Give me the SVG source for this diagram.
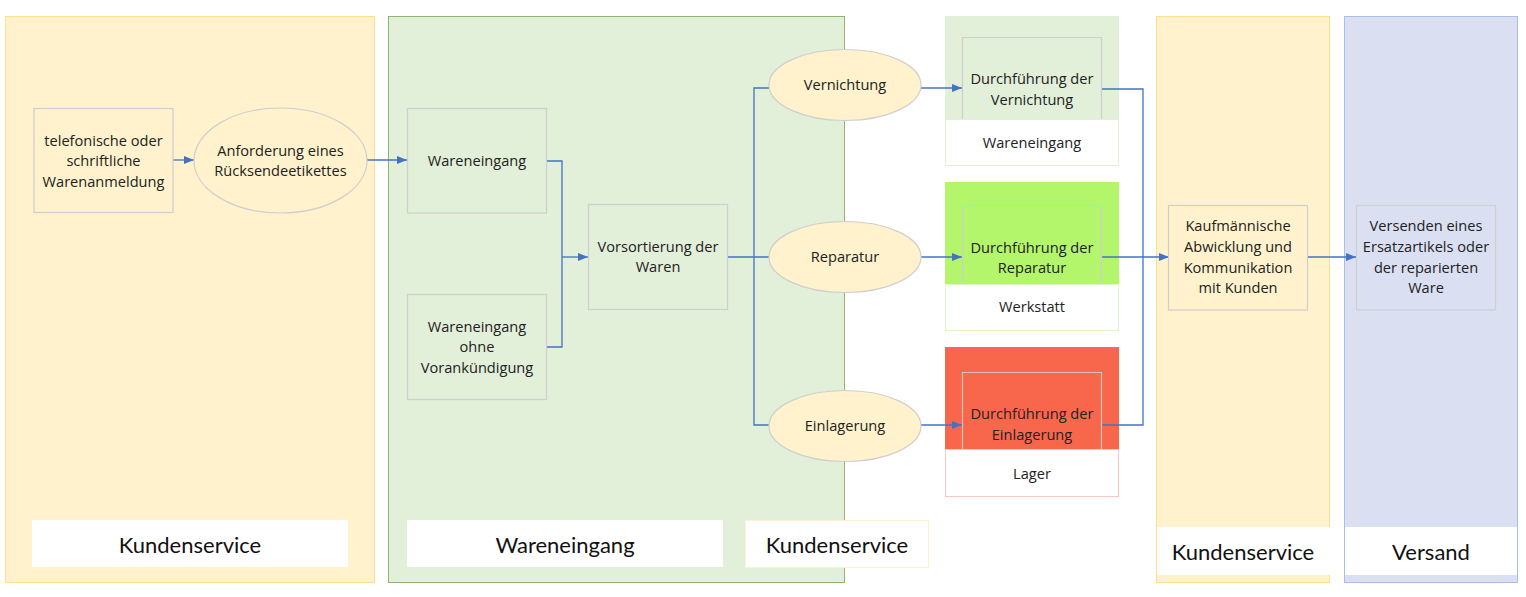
<svg xmlns="http://www.w3.org/2000/svg" width="1526" height="597" viewBox="0 0 1526 597">
<style>
text{font-family:"Open Sans","Noto Sans",sans-serif;font-size:14.6px;fill:#222;text-anchor:middle;dominant-baseline:central}
.lbl{font-family:Lato,"Open Sans",sans-serif;font-size:22px;fill:#111}
.box{stroke:#d0cece;stroke-width:1.2;fill:none}
.ell{fill:#fff2cc;stroke:#d0cece;stroke-width:1.2}
.con{fill:none;stroke:#4472c4;stroke-width:1.3}
.lab{fill:#fff}
</style>
<defs>
<marker id="ah" markerWidth="10" markerHeight="8" refX="10" refY="4" orient="auto" markerUnits="userSpaceOnUse">
<path d="M0,0 L10,4 L0,8 Z" fill="#4472c4"/>
</marker>
</defs>
<rect width="1526" height="597" fill="#fff"/>
<g id="lane-kundenservice-1">
<rect x="5.5" y="16.5" width="369" height="566" fill="#fff2cc" stroke="#ffe08a"/>
<rect class="lab" x="32" y="520" width="316" height="47"/>
<text class="lbl" x="190" y="544">Kundenservice</text>
</g>
<g id="lane-wareneingang">
<rect x="388.5" y="16.5" width="456" height="566" fill="#e2efd9" stroke="#8fb573"/>
<rect class="lab" x="407" y="520" width="316" height="47"/>
<text class="lbl" x="565" y="544">Wareneingang</text>
</g>
<g id="label-kundenservice-2">
<rect x="745.5" y="520.5" width="183" height="47" fill="#fff" stroke="#fff2cc"/>
<text class="lbl" x="837" y="544">Kundenservice</text>
</g>
<g id="lane-kundenservice-3">
<rect x="1156.5" y="16.5" width="173" height="566" fill="#fff2cc" stroke="#ffe08a"/>
<rect class="lab" x="1157" y="527" width="173" height="48"/>
<text class="lbl" x="1243" y="551">Kundenservice</text>
</g>
<g id="lane-versand">
<rect x="1344.5" y="16.5" width="173" height="566" fill="#dae0f2" stroke="#a9bfe6"/>
<rect class="lab" x="1345" y="527" width="172" height="48"/>
<text class="lbl" x="1431" y="551">Versand</text>
</g>
<g id="group-vernichtung">
<rect x="945" y="16" width="174" height="103" fill="#e2efd9"/>
<rect x="945.5" y="119.5" width="173" height="46" fill="#fff" stroke="#e2efd9"/>
<text x="1032" y="142">Wareneingang</text>
</g>
<g id="group-reparatur">
<rect x="945" y="182" width="174" height="102" fill="#b3f56b"/>
<rect x="945.5" y="284.5" width="173" height="46" fill="#fff" stroke="#dff7c8"/>
<text x="1032" y="306">Werkstatt</text>
</g>
<g id="group-einlagerung">
<rect x="945" y="347" width="174" height="102" fill="#f8674c"/>
<rect x="945.5" y="449.5" width="173" height="47" fill="#fff" stroke="#f9c9c0"/>
<text x="1032" y="473">Lager</text>
</g>
<g id="connectors">
<path class="con" d="M173,160 H194" marker-end="url(#ah)"/>
<path class="con" d="M367,160 H407" marker-end="url(#ah)"/>
<path class="con" d="M547,161 H562 V347 H547"/>
<path class="con" d="M562,257 H588" marker-end="url(#ah)"/>
<path class="con" d="M727,257 H769"/>
<path class="con" d="M769,88 H754 V425 H769"/>
<path class="con" d="M921,88 H962" marker-end="url(#ah)"/>
<path class="con" d="M921,257 H962" marker-end="url(#ah)"/>
<path class="con" d="M921,425 H962" marker-end="url(#ah)"/>
<path class="con" d="M1102,89 H1143 V425 H1102"/>
<path class="con" d="M1102,257 H1169" marker-end="url(#ah)"/>
<path class="con" d="M1307,257 H1356" marker-end="url(#ah)"/>
</g>
<g id="node-telefonische">
<rect class="box" x="34" y="108.5" width="139" height="104"/>
<text x="103.5" y="140">telefonische oder</text>
<text x="103.5" y="160">schriftliche</text>
<text x="103.5" y="181">Warenanmeldung</text>
</g>
<g id="node-anforderung">
<ellipse class="ell" cx="280.5" cy="160.5" rx="86.5" ry="52.5"/>
<text x="280.5" y="150">Anforderung eines</text>
<text x="280.5" y="170">Rücksendeetikettes</text>
</g>
<g id="node-wareneingang">
<rect class="box" x="407.5" y="108.5" width="139" height="104.5"/>
<text x="477" y="160">Wareneingang</text>
</g>
<g id="node-ohne">
<rect class="box" x="407.5" y="294.5" width="139" height="105"/>
<text x="477" y="326">Wareneingang</text>
<text x="477" y="346">ohne</text>
<text x="477" y="367">Vorankündigung</text>
</g>
<g id="node-vorsortierung">
<rect class="box" x="588.5" y="204.5" width="139" height="105"/>
<text x="658" y="246">Vorsortierung der</text>
<text x="658" y="266">Waren</text>
</g>
<g id="node-vernichtung">
<ellipse class="ell" cx="845" cy="85" rx="76" ry="35.5"/>
<text x="845" y="84">Vernichtung</text>
</g>
<g id="node-reparatur">
<ellipse class="ell" cx="845" cy="257" rx="76" ry="35.5"/>
<text x="845" y="256">Reparatur</text>
</g>
<g id="node-einlagerung">
<ellipse class="ell" cx="845" cy="426" rx="76" ry="35.5"/>
<text x="845" y="425">Einlagerung</text>
</g>
<g id="node-durchf-vernichtung">
<path class="box" d="M962.5,119 V37.5 H1101.5 V119"/>
<text x="1032" y="78">Durchführung der</text>
<text x="1032" y="99">Vernichtung</text>
</g>
<g id="node-durchf-reparatur">
<path class="box" d="M962.5,284 V205.5 H1101.5 V284"/>
<text x="1032" y="247">Durchführung der</text>
<text x="1032" y="267">Reparatur</text>
</g>
<g id="node-durchf-einlagerung">
<path d="M962.5,449 V372.5 H1101.5 V449" fill="none" stroke="#d9c0bb" stroke-width="1.2"/>
<text x="1032" y="413">Durchführung der</text>
<text x="1032" y="434">Einlagerung</text>
</g>
<g id="node-kaufmaennisch">
<rect class="box" x="1168.5" y="205.5" width="139" height="104.5"/>
<text x="1238" y="225">Kaufmännische</text>
<text x="1238" y="246">Abwicklung und</text>
<text x="1238" y="267">Kommunikation</text>
<text x="1238" y="287">mit Kunden</text>
</g>
<g id="node-versenden">
<rect class="box" x="1356.5" y="205.5" width="139" height="104.5"/>
<text x="1426" y="225">Versenden eines</text>
<text x="1426" y="246">Ersatzartikels oder</text>
<text x="1426" y="267">der reparierten</text>
<text x="1426" y="287">Ware</text>
</g>
</svg>
